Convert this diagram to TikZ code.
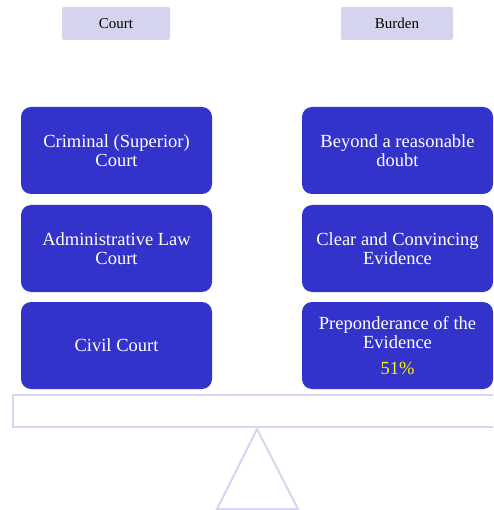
\documentclass[tikz,border=0pt]{standalone}
\usepackage{fontspec}
\setmainfont{Liberation Serif}
\definecolor{hdr}{HTML}{D4D4EE}
\definecolor{blu}{HTML}{3333CC}
\definecolor{pale}{HTML}{D6D6F0}
\definecolor{yel}{HTML}{F5F500}
\tikzset{
  hdrbox/.style={fill=hdr, draw=none, rounded corners=2pt, minimum height=33pt, font=\fontsize{15}{17}\selectfont, text=black},
  bluebox/.style={fill=blu, draw=none, rounded corners=10pt, minimum width=191pt, minimum height=87pt, text=white, align=center, font=\fontsize{18.5}{19.5}\selectfont},
  pal/.style={draw=pale, line width=2pt}
}
\begin{document}
\begin{tikzpicture}[x=1pt,y=-1pt]
\useasboundingbox (0,0) rectangle (493,510);
\clip (0,0) rectangle (493,510);
\node[hdrbox, minimum width=108pt] (court) at (116,23.5) {Court};
\node[hdrbox, minimum width=112pt] (burden) at (397,23.5) {Burden};
\node[bluebox] (c1) at (116.5,150.5) {Criminal (Superior)\\Court};
\node[bluebox] (c2) at (116.5,248.5) {Administrative Law\\Court};
\node[bluebox] (c3) at (116.5,345.5) {Civil Court};
\node[bluebox] (b1) at (397.5,150.5) {Beyond a reasonable\\doubt};
\node[bluebox] (b2) at (397.5,248.5) {Clear and Convincing\\Evidence};
\node[bluebox] (b3) at (397.5,345.5) {Preponderance of the\\Evidence\\[6pt]{\color{yel}51\%}};
\draw[pal] (13,395) rectangle (500,427);
\coordinate (apex) at (257,429);
\coordinate (bl) at (217,509);
\coordinate (br) at (298,509);
\draw[pal, line join=miter] (bl) -- (apex) -- (br) -- cycle;
\end{tikzpicture}
\end{document}
